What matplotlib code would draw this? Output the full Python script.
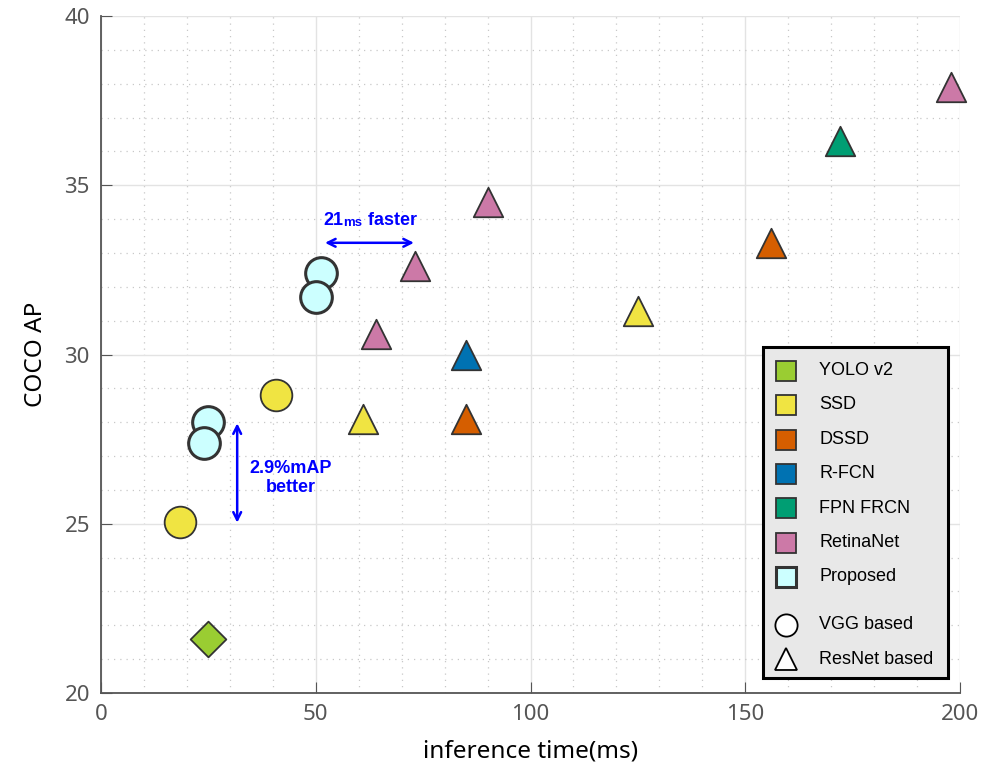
import matplotlib.pyplot as plt
import matplotlib.ticker as ticker
from matplotlib.patches import Rectangle

# method names, colours and shapes (o = VGG based, ^ = ResNet based, D = YOLO)
methods = ['YOLO v2', 'SSD', 'DSSD', 'R-FCN', 'FPN FRCN', 'RetinaNet', 'Proposed']
colors = ['#9acd32', '#f0e442', '#d55e00', '#0072b2', '#009e73', '#cc79a7', '#ccffff']

# (inference time ms, COCO AP, marker)
yolo_pts = [(25, 21.6, 'D')]
ssd_pts = [(18.5, 25.05, 'o'), (40.7, 28.8, 'o'), (61, 28.1, '^'), (125, 31.3, '^')]
dssd_pts = [(85, 28.1, '^'), (156, 33.3, '^')]
rfcn_pts = [(85, 30.0, '^')]
fpn_pts = [(172, 36.3, '^')]
retina_pts = [(64, 30.6, '^'), (73, 32.6, '^'), (90, 34.5, '^'), (198, 37.9, '^')]
proposed_pts = [(51.2, 32.4, 'o'), (50, 31.7, 'o'), (25, 28.0, 'o'), (24, 27.4, 'o')]

groups = [yolo_pts, ssd_pts, dssd_pts, rfcn_pts, fpn_pts, retina_pts, proposed_pts]

plt.rcParams['font.family'] = ['Noto Sans', 'DejaVu Sans']

fig = plt.figure(figsize=(9.81, 7.8), dpi=100)
ax = fig.add_axes([0.103, 0.1115, 0.8756, 0.868])

for pts, c, name in zip(groups, colors, methods):
    for x, y, m in pts:
        size = {'o': 520, '^': 450, 'D': 330}[m]
        lw = 2.2 if name == 'Proposed' else 1.3
        ax.scatter(x, y, s=size, marker=m, facecolor=c, edgecolor='#333333',
                   linewidth=lw, zorder=3, clip_on=False)

ax.set_xlim(0, 200)
ax.set_ylim(20, 40)
ax.xaxis.set_major_locator(ticker.MultipleLocator(50))
ax.xaxis.set_minor_locator(ticker.MultipleLocator(10))
ax.yaxis.set_major_locator(ticker.MultipleLocator(5))
ax.yaxis.set_minor_locator(ticker.MultipleLocator(1))
ax.grid(which='major', color='#e3e3e3', linewidth=1.0)
ax.grid(which='minor', color='#c8c8c8', linestyle=(0, (1, 4)), linewidth=0.9)
ax.set_axisbelow(True)

for s in ['top', 'right']:
    ax.spines[s].set_visible(False)
for s in ['left', 'bottom']:
    ax.spines[s].set_color('#555555')
    ax.spines[s].set_linewidth(1.3)
ax.tick_params(which='major', direction='in', length=8, color='#555555',
               labelsize=16, labelcolor='#555555', pad=8)
ax.tick_params(which='minor', length=0)

ax.set_xlabel('inference time(ms)', fontsize=17.5, labelpad=10)
ax.set_ylabel('COCO AP', fontsize=17.5, labelpad=12)

# annotations
blue = '#0000ff'
ax.annotate('', xy=(51.5, 33.3), xytext=(73.5, 33.3),
            arrowprops=dict(arrowstyle='<->', color=blue, lw=1.8,
                            mutation_scale=14))
t1 = ax.text(51.8, 33.72, '21', color=blue, fontsize=13, fontweight='bold',
             family=['Liberation Sans'], va='bottom', ha='left')
t2 = ax.annotate('ms', xy=(1, 0), xycoords=t1, va='bottom', ha='left',
                 color=blue, fontsize=9.5, fontweight='bold',
                 family=['Liberation Sans'])
ax.annotate(' faster', xy=(1, 0), xycoords=t2, va='bottom', ha='left',
            color=blue, fontsize=13, fontweight='bold',
            family=['Liberation Sans'])

ax.annotate('', xy=(31.7, 28.05), xytext=(31.7, 24.95),
            arrowprops=dict(arrowstyle='<->', color=blue, lw=1.8,
                            mutation_scale=14))
ax.text(44.2, 26.35, '2.9%mAP\nbetter', color=blue, fontsize=13,
        fontweight='bold', family=['Liberation Sans'], ha='center',
        va='center', linespacing=1.2)

# hand-built legend box
ax.add_patch(Rectangle((0.771, 0.022), 0.215, 0.489, transform=ax.transAxes,
                       facecolor='#e8e8e8', edgecolor='black', linewidth=2.2,
                       zorder=5, clip_on=False))
row_y = [0.476, 0.426, 0.374, 0.324, 0.273, 0.222, 0.172, 0.101, 0.050]
for i, (name, c) in enumerate(zip(methods, colors)):
    lw = 2.2 if name == 'Proposed' else 1.3
    ax.plot([0.797], [row_y[i]], marker='s', markersize=15, color=c,
            markeredgecolor='#333333', markeredgewidth=lw,
            transform=ax.transAxes, zorder=6, clip_on=False)
    ax.text(0.836, row_y[i], name, transform=ax.transAxes, fontsize=13,
            family=['Liberation Sans'], va='center', zorder=6)
for name, m, y in [('VGG based', 'o', row_y[7]), ('ResNet based', '^', row_y[8])]:
    ax.plot([0.797], [y], marker=m, markersize=16, color='white',
            markeredgecolor='black', markeredgewidth=1.3,
            transform=ax.transAxes, zorder=6, clip_on=False)
    ax.text(0.836, y, name, transform=ax.transAxes, fontsize=13,
            family=['Liberation Sans'], va='center', zorder=6)

fig.savefig('out.png', dpi=100)
